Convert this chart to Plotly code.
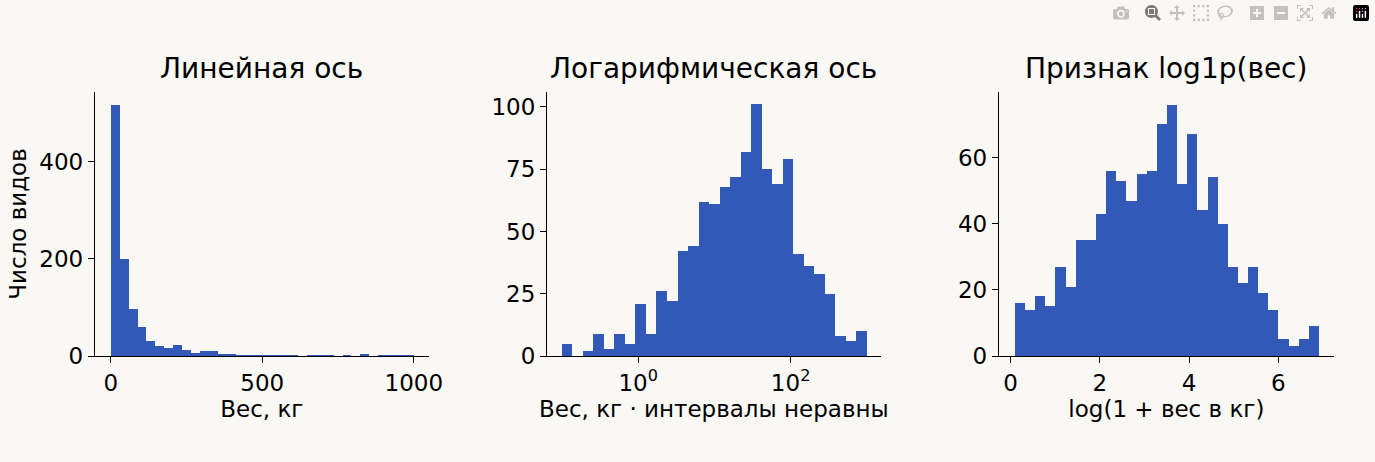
import plotly.graph_objects as go

# Панель 1: линейная ось, 34 интервала от 0 до 1000 кг
lin_start = 0.0
lin_width = 1000 / 34
lin_counts = [517, 200, 97, 60, 31, 21, 16, 23, 12, 6, 10, 10, 4, 4,
              2, 2, 2, 2, 2, 2, 2, 0, 2, 2, 2, 0, 2, 0, 5, 0, 2, 2, 2, 2]

# Панель 2: логарифмическая ось, 29 интервалов от 10^-1 до 10^3 (в log10)
log_start = -1.0
log_width = 4.0 / 29
log_counts = [5, 0, 2, 9, 3, 9, 5, 21, 9, 26, 22, 42, 44, 62, 61, 68, 72,
              82, 101, 75, 69, 79, 41, 36, 33, 25, 8, 6, 10]

# Панель 3: log1p(вес), 30 интервалов
l1p_start = 0.0953
l1p_width = (6.909 - 0.0953) / 30
l1p_counts = [16, 14, 18, 15, 27, 21, 35, 35, 43, 56, 53, 47, 55, 56, 70,
              76, 52, 67, 44, 54, 40, 27, 22, 27, 19, 14, 5, 3, 5, 9]

color = "#3259B8"
bg = "#FAF8F5"
font = "DejaVu Sans"


def centers(start, width, n):
    return [start + width * (i + 0.5) for i in range(n)]


fig = go.Figure()
fig.add_trace(go.Bar(x=centers(lin_start, lin_width, len(lin_counts)), y=lin_counts,
                     width=lin_width, marker=dict(color=color, line_width=0),
                     xaxis="x", yaxis="y"))
fig.add_trace(go.Bar(x=centers(log_start, log_width, len(log_counts)), y=log_counts,
                     width=log_width, marker=dict(color=color, line_width=0),
                     xaxis="x2", yaxis="y2"))
fig.add_trace(go.Bar(x=centers(l1p_start, l1p_width, len(l1p_counts)), y=l1p_counts,
                     width=l1p_width, marker=dict(color=color, line_width=0),
                     xaxis="x3", yaxis="y3"))

axis_common = dict(showline=True, linecolor="black", linewidth=1.3, ticks="outside",
                   ticklen=6, tickcolor="black", showgrid=False, zeroline=False,
                   tickfont=dict(size=23, color="black"))
title_font = dict(size=23)

fig.update_layout(
    width=1375, height=462, paper_bgcolor=bg, plot_bgcolor=bg,
    font=dict(family=font, color="black"), showlegend=False, bargap=0,
    margin=dict(l=0, r=0, t=92, b=106),
    xaxis=dict(domain=[0.0698, 0.315], range=[-52, 1049], tickvals=[0, 500, 1000],
               title=dict(text="Вес, кг", font=title_font, standoff=6), **axis_common),
    yaxis=dict(range=[0, 544], tickvals=[0, 200, 400],
               title=dict(text="Число видов", font=title_font, standoff=6), **axis_common),
    xaxis2=dict(domain=[0.402, 0.647], range=[-1.195, 3.18], anchor="y2",
                tickvals=[0, 2], ticktext=["10<sup>0</sup>", "10<sup>2</sup>"],
                title=dict(text="Вес, кг · интервалы неравны", font=title_font, standoff=6),
                **axis_common),
    yaxis2=dict(range=[0, 106], tickvals=[0, 25, 50, 75, 100], anchor="x2", **axis_common),
    xaxis3=dict(domain=[0.734, 0.98], range=[-0.26, 7.24], anchor="y3", tickvals=[0, 2, 4, 6],
                title=dict(text="log(1 + вес в кг)", font=title_font, standoff=6),
                **axis_common),
    yaxis3=dict(range=[0, 79.8], tickvals=[0, 20, 40, 60], anchor="x3", **axis_common),
)

titles = ["Линейная ось", "Логарифмическая ось", "Признак log1p(вес)"]
for t, dom in zip(titles, [[0.0698, 0.315], [0.402, 0.647], [0.734, 0.98]]):
    fig.add_annotation(text=t, x=(dom[0] + dom[1]) / 2, y=1.02, xref="paper", yref="paper",
                       xanchor="center", yanchor="bottom", showarrow=False,
                       font=dict(size=28, family=font, color="black"))

fig.write_html("out.html",
               post_script="document.body.style.margin='0';"
                           "document.body.style.background='#FAF8F5';")
